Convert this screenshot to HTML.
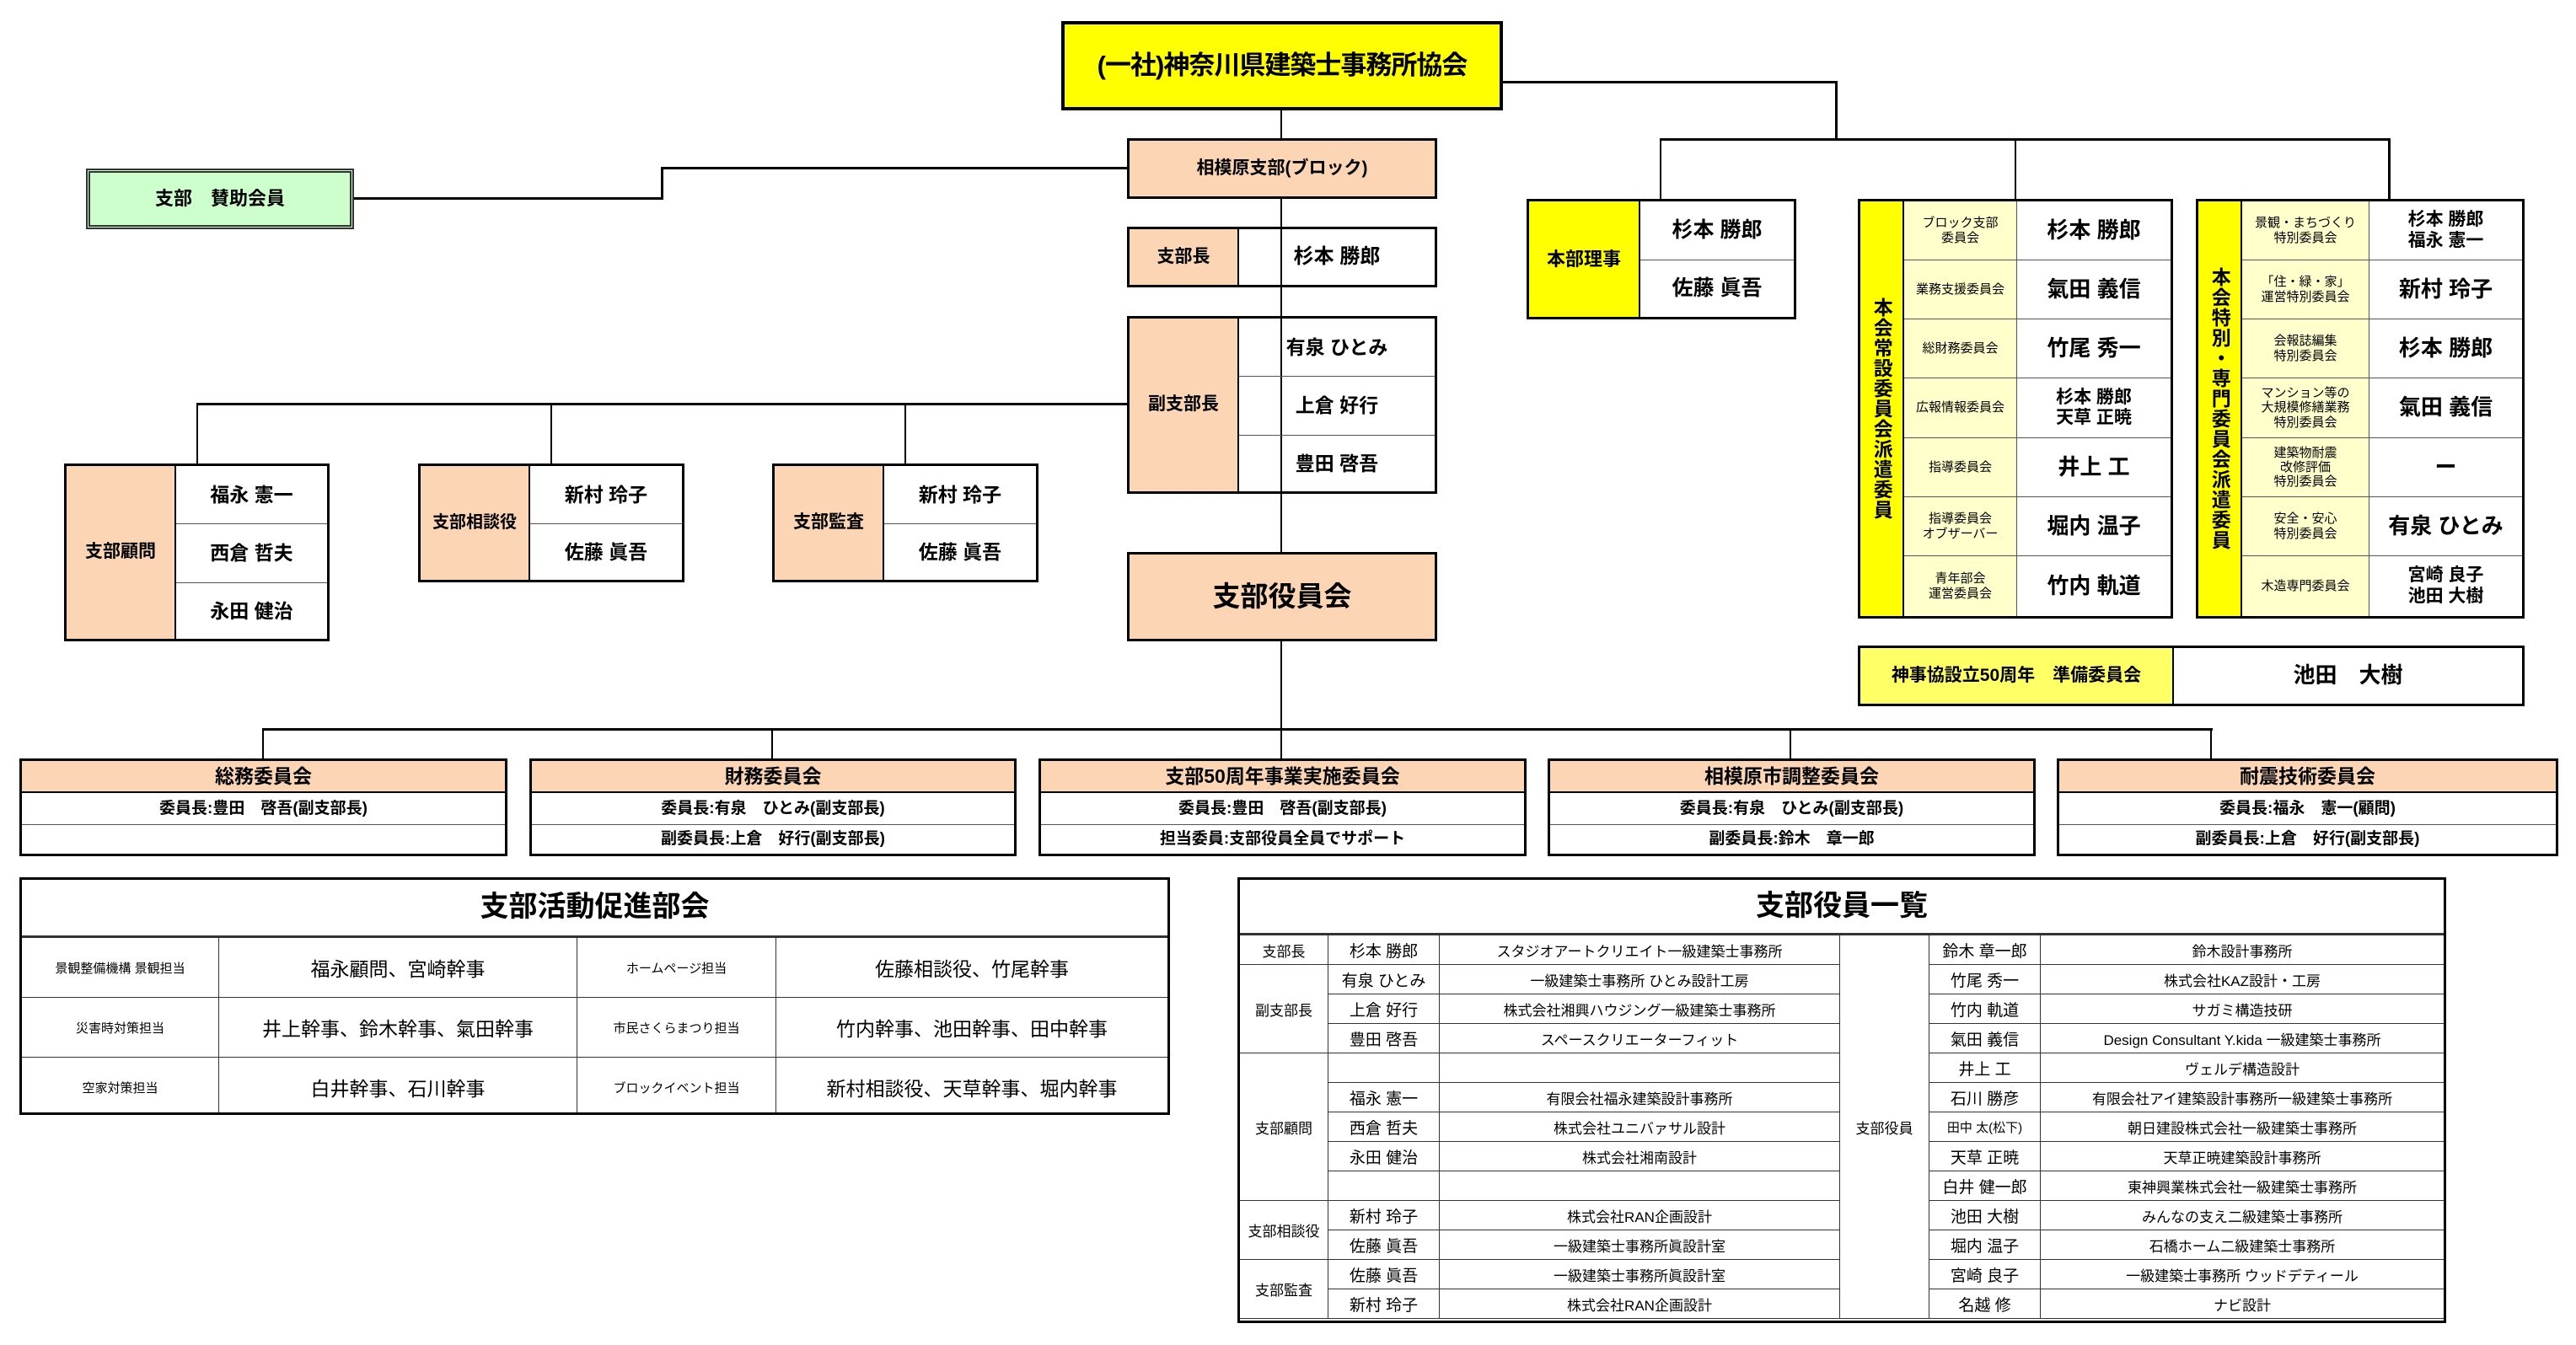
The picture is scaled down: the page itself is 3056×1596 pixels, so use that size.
<!DOCTYPE html>
<html><head><meta charset="utf-8">
<style>
*{margin:0;padding:0;box-sizing:border-box}
body{width:3056px;height:1596px;background:#fff;position:relative;overflow:hidden;font-family:"Liberation Sans","Noto Sans CJK JP",sans-serif;color:#000}
.b{position:absolute;border:3px solid #000;overflow:hidden}
.c{position:absolute;display:flex;align-items:center;justify-content:center;text-align:center;line-height:1.15;font-weight:bold}
.l{position:absolute;background:#000}
.pe{background:#fcd5b4}
.ye{background:#ffff00}
.ly{background:#ffffcc}
.v{writing-mode:vertical-rl;letter-spacing:1px}
table{border-collapse:collapse;table-layout:fixed}
td{border:1.5px solid #333;text-align:center;vertical-align:middle;padding:0;overflow:hidden;white-space:nowrap}
</style></head><body>

<!-- connectors -->
<div class="l" style="left:1783px;top:96px;width:397px;height:3px"></div>
<div class="l" style="left:2177px;top:96px;width:3px;height:71px"></div>
<div class="l" style="left:1969px;top:164px;width:867px;height:3px"></div>
<div class="l" style="left:1969px;top:164px;width:2px;height:73px"></div>
<div class="l" style="left:2390px;top:164px;width:2px;height:73px"></div>
<div class="l" style="left:2833px;top:164px;width:3px;height:73px"></div>

<div class="l" style="left:1519px;top:131px;width:2px;height:735px"></div>
<div class="l" style="left:785px;top:198px;width:552px;height:3px"></div>
<div class="l" style="left:784px;top:198px;width:3px;height:39px"></div>
<div class="l" style="left:420px;top:234px;width:367px;height:3px"></div>

<div class="l" style="left:233px;top:478px;width:1104px;height:3px"></div>
<div class="l" style="left:233px;top:478px;width:2px;height:72px"></div>
<div class="l" style="left:653px;top:478px;width:2px;height:72px"></div>
<div class="l" style="left:1073px;top:478px;width:2px;height:72px"></div>

<div class="l" style="left:311px;top:864px;width:2314px;height:3px"></div>
<div class="l" style="left:311px;top:864px;width:2px;height:38px"></div>
<div class="l" style="left:915px;top:864px;width:2px;height:38px"></div>
<div class="l" style="left:1519px;top:864px;width:2px;height:38px"></div>
<div class="l" style="left:2123px;top:864px;width:2px;height:38px"></div>
<div class="l" style="left:2622px;top:864px;width:2px;height:38px"></div>

<!-- top -->
<div class="b ye" style="left:1259px;top:25px;width:524px;height:106px;border-width:4px"><div class="c" style="inset:0;font-size:31px;letter-spacing:-1px">(一社)神奈川県建築士事務所協会</div></div>

<div class="b pe" style="left:1337px;top:164px;width:368px;height:72px"><div class="c" style="inset:0;font-size:21px">相模原支部(ブロック)</div></div>

<div class="b" style="left:102px;top:200px;width:318px;height:72px;border:5px double #333;background:#ccffcc"><div class="c" style="inset:0;font-size:22px">支部　賛助会員</div></div>

<div class="b" style="left:1337px;top:269px;width:368px;height:72px">
<div class="c pe" style="left:0;top:0;width:130px;height:100%;border-right:2px solid #000;font-size:21px">支部長</div>
<div class="c" style="left:130px;top:0;right:0;height:100%;font-size:24px">杉本 勝郎</div></div>

<div class="b" style="left:1337px;top:375px;width:368px;height:211px">
<div class="c pe" style="left:0;top:0;width:130px;height:100%;border-right:2px solid #000;font-size:21px">副支部長</div>
<div class="c" style="left:130px;top:0;right:0;height:69px;border-bottom:1.5px solid #555;font-size:23px">有泉 ひとみ</div>
<div class="c" style="left:130px;top:69px;right:0;height:70px;border-bottom:1.5px solid #555;font-size:23px">上倉 好行</div>
<div class="c" style="left:130px;top:139px;right:0;bottom:0;font-size:23px">豊田 啓吾</div></div>

<div class="b pe" style="left:1337px;top:655px;width:368px;height:106px"><div class="c" style="inset:0;font-size:33px">支部役員会</div></div>

<div class="b" style="left:76px;top:550px;width:315px;height:211px">
<div class="c pe" style="left:0;top:0;width:130px;height:100%;border-right:2px solid #000;font-size:21px">支部顧問</div>
<div class="c" style="left:130px;top:0;right:0;height:69px;border-bottom:1.5px solid #555;font-size:23px">福永 憲一</div>
<div class="c" style="left:130px;top:69px;right:0;height:70px;border-bottom:1.5px solid #555;font-size:23px">西倉 哲夫</div>
<div class="c" style="left:130px;top:139px;right:0;bottom:0;font-size:23px">永田 健治</div></div>

<div class="b" style="left:496px;top:550px;width:316px;height:141px">
<div class="c pe" style="left:0;top:0;width:130px;height:100%;border-right:2px solid #000;font-size:20px">支部相談役</div>
<div class="c" style="left:130px;top:0;right:0;height:69px;border-bottom:1.5px solid #555;font-size:23px">新村 玲子</div>
<div class="c" style="left:130px;top:69px;right:0;bottom:0;font-size:23px">佐藤 眞吾</div></div>

<div class="b" style="left:916px;top:550px;width:316px;height:141px">
<div class="c pe" style="left:0;top:0;width:130px;height:100%;border-right:2px solid #000;font-size:21px">支部監査</div>
<div class="c" style="left:130px;top:0;right:0;height:69px;border-bottom:1.5px solid #555;font-size:23px">新村 玲子</div>
<div class="c" style="left:130px;top:69px;right:0;bottom:0;font-size:23px">佐藤 眞吾</div></div>

<!-- right side -->
<div class="b" style="left:1811px;top:236px;width:320px;height:143px">
<div class="c ye" style="left:0;top:0;width:132px;height:100%;border-right:2px solid #000;font-size:22px">本部理事</div>
<div class="c" style="left:132px;top:0;right:0;height:70px;border-bottom:1.5px solid #555;font-size:25px">杉本 勝郎</div>
<div class="c" style="left:132px;top:70px;right:0;bottom:0;font-size:25px">佐藤 眞吾</div></div>

<div class="b" style="left:2204px;top:236px;width:374px;height:498px">
<div class="c ye v" style="left:0;top:0;width:52px;height:100%;border-right:2px solid #000;font-size:23px">本会常設委員会派遣委員</div>
<div class="c ly" style="left:52px;top:0;width:134px;height:70px;border-bottom:1.5px solid #555;border-right:1.5px solid #555;font-size:15px;font-weight:normal">ブロック支部<br>委員会</div>
<div class="c ly" style="left:52px;top:70px;width:134px;height:70px;border-bottom:1.5px solid #555;border-right:1.5px solid #555;font-size:15px;font-weight:normal">業務支援委員会</div>
<div class="c ly" style="left:52px;top:140px;width:134px;height:70px;border-bottom:1.5px solid #555;border-right:1.5px solid #555;font-size:15px;font-weight:normal">総財務委員会</div>
<div class="c ly" style="left:52px;top:210px;width:134px;height:71px;border-bottom:1.5px solid #555;border-right:1.5px solid #555;font-size:15px;font-weight:normal">広報情報委員会</div>
<div class="c ly" style="left:52px;top:281px;width:134px;height:70px;border-bottom:1.5px solid #555;border-right:1.5px solid #555;font-size:15px;font-weight:normal">指導委員会</div>
<div class="c ly" style="left:52px;top:351px;width:134px;height:70px;border-bottom:1.5px solid #555;border-right:1.5px solid #555;font-size:15px;font-weight:normal">指導委員会<br>オブザーバー</div>
<div class="c ly" style="left:52px;top:421px;width:134px;bottom:0;border-right:1.5px solid #555;font-size:15px;font-weight:normal">青年部会<br>運営委員会</div>
<div class="c" style="left:186px;top:0;right:0;height:70px;border-bottom:1.5px solid #555;font-size:26px">杉本 勝郎</div>
<div class="c" style="left:186px;top:70px;right:0;height:70px;border-bottom:1.5px solid #555;font-size:26px">氣田 義信</div>
<div class="c" style="left:186px;top:140px;right:0;height:70px;border-bottom:1.5px solid #555;font-size:26px">竹尾 秀一</div>
<div class="c" style="left:186px;top:210px;right:0;height:71px;border-bottom:1.5px solid #555;font-size:21px">杉本 勝郎<br>天草 正暁</div>
<div class="c" style="left:186px;top:281px;right:0;height:70px;border-bottom:1.5px solid #555;font-size:26px">井上 工</div>
<div class="c" style="left:186px;top:351px;right:0;height:70px;border-bottom:1.5px solid #555;font-size:26px">堀内 温子</div>
<div class="c" style="left:186px;top:421px;right:0;bottom:0;font-size:26px">竹内 軌道</div>
</div>

<div class="b" style="left:2605px;top:236px;width:390px;height:498px">
<div class="c ye v" style="left:0;top:0;width:52px;height:100%;border-right:2px solid #000;font-size:23px">本会特別・専門委員会派遣委員</div>
<div class="c ly" style="left:52px;top:0;width:151px;height:70px;border-bottom:1.5px solid #555;border-right:1.5px solid #555;font-size:15px;font-weight:normal">景観・まちづくり<br>特別委員会</div>
<div class="c ly" style="left:52px;top:70px;width:151px;height:70px;border-bottom:1.5px solid #555;border-right:1.5px solid #555;font-size:15px;font-weight:normal">「住・緑・家」<br>運営特別委員会</div>
<div class="c ly" style="left:52px;top:140px;width:151px;height:70px;border-bottom:1.5px solid #555;border-right:1.5px solid #555;font-size:15px;font-weight:normal">会報誌編集<br>特別委員会</div>
<div class="c ly" style="left:52px;top:210px;width:151px;height:71px;border-bottom:1.5px solid #555;border-right:1.5px solid #555;font-size:15px;font-weight:normal">マンション等の<br>大規模修繕業務<br>特別委員会</div>
<div class="c ly" style="left:52px;top:281px;width:151px;height:70px;border-bottom:1.5px solid #555;border-right:1.5px solid #555;font-size:15px;font-weight:normal">建築物耐震<br>改修評価<br>特別委員会</div>
<div class="c ly" style="left:52px;top:351px;width:151px;height:70px;border-bottom:1.5px solid #555;border-right:1.5px solid #555;font-size:15px;font-weight:normal">安全・安心<br>特別委員会</div>
<div class="c ly" style="left:52px;top:421px;width:151px;bottom:0;border-right:1.5px solid #555;font-size:15px;font-weight:normal">木造専門委員会</div>
<div class="c" style="left:203px;top:0;right:0;height:70px;border-bottom:1.5px solid #555;font-size:21px">杉本 勝郎<br>福永 憲一</div>
<div class="c" style="left:203px;top:70px;right:0;height:70px;border-bottom:1.5px solid #555;font-size:26px">新村 玲子</div>
<div class="c" style="left:203px;top:140px;right:0;height:70px;border-bottom:1.5px solid #555;font-size:26px">杉本 勝郎</div>
<div class="c" style="left:203px;top:210px;right:0;height:71px;border-bottom:1.5px solid #555;font-size:26px">氣田 義信</div>
<div class="c" style="left:203px;top:281px;right:0;height:70px;border-bottom:1.5px solid #555;font-size:26px">ー</div>
<div class="c" style="left:203px;top:351px;right:0;height:70px;border-bottom:1.5px solid #555;font-size:26px">有泉 ひとみ</div>
<div class="c" style="left:203px;top:421px;right:0;bottom:0;font-size:21px">宮崎 良子<br>池田 大樹</div>
</div>

<div class="b" style="left:2204px;top:766px;width:791px;height:72px">
<div class="c" style="left:0;top:0;width:372px;height:100%;background:#ffff66;border-right:2px solid #000;font-size:21px">神事協設立50周年　準備委員会</div>
<div class="c" style="left:372px;top:0;right:0;height:100%;font-size:26px">池田　大樹</div></div>

<!-- committees -->
<div class="b" style="left:23px;top:900px;width:579px;height:116px">
<div class="c pe" style="left:0;top:0;right:0;height:38px;border-bottom:2px solid #000;font-size:23px">総務委員会</div>
<div class="c" style="left:0;top:38px;right:0;height:38px;border-bottom:1.5px solid #555;font-size:19px">委員長:豊田　啓吾(副支部長)</div>
<div class="c" style="left:0;top:76px;right:0;bottom:0;font-size:19px"></div></div>
<div class="b" style="left:628px;top:900px;width:578px;height:116px">
<div class="c pe" style="left:0;top:0;right:0;height:38px;border-bottom:2px solid #000;font-size:23px">財務委員会</div>
<div class="c" style="left:0;top:38px;right:0;height:38px;border-bottom:1.5px solid #555;font-size:19px">委員長:有泉　ひとみ(副支部長)</div>
<div class="c" style="left:0;top:76px;right:0;bottom:0;font-size:19px">副委員長:上倉　好行(副支部長)</div></div>
<div class="b" style="left:1232px;top:900px;width:579px;height:116px">
<div class="c pe" style="left:0;top:0;right:0;height:38px;border-bottom:2px solid #000;font-size:23px">支部50周年事業実施委員会</div>
<div class="c" style="left:0;top:38px;right:0;height:38px;border-bottom:1.5px solid #555;font-size:19px">委員長:豊田　啓吾(副支部長)</div>
<div class="c" style="left:0;top:76px;right:0;bottom:0;font-size:19px">担当委員:支部役員全員でサポート</div></div>
<div class="b" style="left:1836px;top:900px;width:579px;height:116px">
<div class="c pe" style="left:0;top:0;right:0;height:38px;border-bottom:2px solid #000;font-size:23px">相模原市調整委員会</div>
<div class="c" style="left:0;top:38px;right:0;height:38px;border-bottom:1.5px solid #555;font-size:19px">委員長:有泉　ひとみ(副支部長)</div>
<div class="c" style="left:0;top:76px;right:0;bottom:0;font-size:19px">副委員長:鈴木　章一郎</div></div>
<div class="b" style="left:2440px;top:900px;width:595px;height:116px">
<div class="c pe" style="left:0;top:0;right:0;height:38px;border-bottom:2px solid #000;font-size:23px">耐震技術委員会</div>
<div class="c" style="left:0;top:38px;right:0;height:38px;border-bottom:1.5px solid #555;font-size:19px">委員長:福永　憲一(顧問)</div>
<div class="c" style="left:0;top:76px;right:0;bottom:0;font-size:19px">副委員長:上倉　好行(副支部長)</div></div>

<!-- 活動促進部会 -->
<div class="b" style="left:23px;top:1041px;width:1365px;height:282px">
<div class="c" style="left:0;top:0;right:0;height:68px;border-bottom:2px solid #333;font-size:34px">支部活動促進部会</div>
<table style="position:absolute;left:-1px;top:68px;width:1361px">
<colgroup><col style="width:234px"><col style="width:425px"><col style="width:236px"><col></colgroup>
<tr style="height:71px"><td style="font-size:15px">景観整備機構 景観担当</td><td style="font-size:23px">福永顧問、宮崎幹事</td><td style="font-size:15px">ホームページ担当</td><td style="font-size:23px">佐藤相談役、竹尾幹事</td></tr>
<tr style="height:71px"><td style="font-size:15px">災害時対策担当</td><td style="font-size:23px">井上幹事、鈴木幹事、氣田幹事</td><td style="font-size:15px">市民さくらまつり担当</td><td style="font-size:23px">竹内幹事、池田幹事、田中幹事</td></tr>
<tr style="height:71px"><td style="font-size:15px">空家対策担当</td><td style="font-size:23px">白井幹事、石川幹事</td><td style="font-size:15px">ブロックイベント担当</td><td style="font-size:23px">新村相談役、天草幹事、堀内幹事</td></tr>
</table></div>

<!-- 役員一覧 -->
<div class="b" style="left:1468px;top:1041px;width:1434px;height:529px">
<div class="c" style="left:0;top:0;right:0;height:65px;border-bottom:2px solid #333;font-size:34px">支部役員一覧</div>
<table style="position:absolute;left:-1px;top:65px;width:1430px;font-size:17px">
<colgroup><col style="width:105px"><col style="width:132px"><col style="width:475px"><col style="width:106px"><col style="width:132px"><col></colgroup>
<tr style="height:35px"><td>支部長</td><td style="font-size:19px">杉本 勝郎</td><td>スタジオアートクリエイト一級建築士事務所</td><td rowspan="13">支部役員</td><td style="font-size:19px">鈴木 章一郎</td><td>鈴木設計事務所</td></tr>
<tr style="height:35px"><td rowspan="3">副支部長</td><td style="font-size:19px">有泉 ひとみ</td><td>一級建築士事務所 ひとみ設計工房</td><td style="font-size:19px">竹尾 秀一</td><td>株式会社KAZ設計・工房</td></tr>
<tr style="height:35px"><td style="font-size:19px">上倉 好行</td><td>株式会社湘興ハウジング一級建築士事務所</td><td style="font-size:19px">竹内 軌道</td><td>サガミ構造技研</td></tr>
<tr style="height:35px"><td style="font-size:19px">豊田 啓吾</td><td>スペースクリエーターフィット</td><td style="font-size:19px">氣田 義信</td><td>Design Consultant Y.kida 一級建築士事務所</td></tr>
<tr style="height:35px"><td rowspan="5">支部顧問</td><td></td><td></td><td style="font-size:19px">井上 工</td><td>ヴェルデ構造設計</td></tr>
<tr style="height:35px"><td style="font-size:19px">福永 憲一</td><td>有限会社福永建築設計事務所</td><td style="font-size:19px">石川 勝彦</td><td>有限会社アイ建築設計事務所一級建築士事務所</td></tr>
<tr style="height:35px"><td style="font-size:19px">西倉 哲夫</td><td>株式会社ユニバァサル設計</td><td style="font-size:15px">田中 太(松下)</td><td>朝日建設株式会社一級建築士事務所</td></tr>
<tr style="height:35px"><td style="font-size:19px">永田 健治</td><td>株式会社湘南設計</td><td style="font-size:19px">天草 正暁</td><td>天草正暁建築設計事務所</td></tr>
<tr style="height:35px"><td></td><td></td><td style="font-size:19px">白井 健一郎</td><td>東神興業株式会社一級建築士事務所</td></tr>
<tr style="height:35px"><td rowspan="2">支部相談役</td><td style="font-size:19px">新村 玲子</td><td>株式会社RAN企画設計</td><td style="font-size:19px">池田 大樹</td><td>みんなの支え二級建築士事務所</td></tr>
<tr style="height:35px"><td style="font-size:19px">佐藤 眞吾</td><td>一級建築士事務所眞設計室</td><td style="font-size:19px">堀内 温子</td><td>石橋ホーム二級建築士事務所</td></tr>
<tr style="height:35px"><td rowspan="2">支部監査</td><td style="font-size:19px">佐藤 眞吾</td><td>一級建築士事務所眞設計室</td><td style="font-size:19px">宮崎 良子</td><td>一級建築士事務所 ウッドデティール</td></tr>
<tr style="height:35px"><td style="font-size:19px">新村 玲子</td><td>株式会社RAN企画設計</td><td style="font-size:19px">名越 修</td><td>ナビ設計</td></tr>
</table></div>

</body></html>
